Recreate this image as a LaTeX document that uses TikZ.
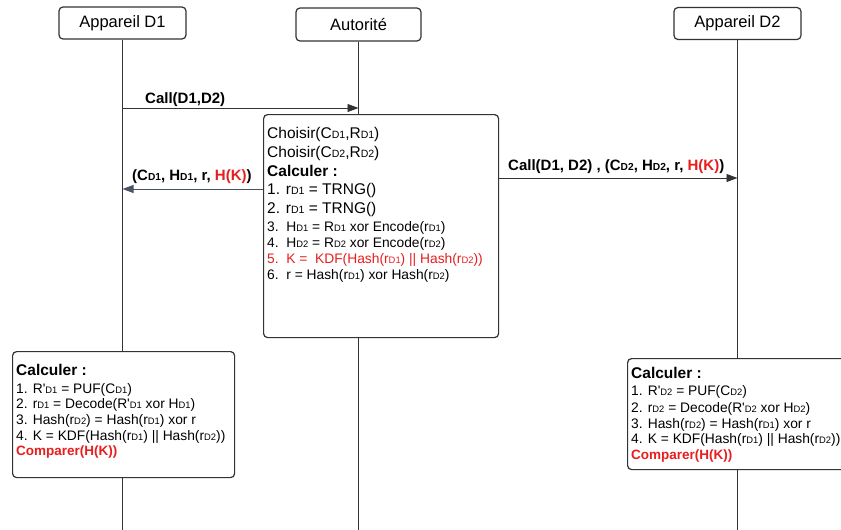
\documentclass[tikz,border=0pt]{standalone}
\usepackage{fontspec}
\setmainfont{Liberation Sans}
\usepackage{graphicx}
\usetikzlibrary{arrows.meta}
\definecolor{ink}{HTML}{333333}
\definecolor{slate}{HTML}{4A5563}
\definecolor{alert}{HTML}{E81E1E}
% small index letters on the baseline (C_D1, r_D2, ...)
\newcommand\lo[1]{\scalebox{0.68}{#1}}
\newcommand\q{\textquotesingle}
\tikzset{
  actor/.style={draw=ink, line width=1.2pt, rounded corners=4pt, fill=white,
    minimum height=32pt, inner sep=0pt, font=\fontsize{16.5}{20}\selectfont},
  panel/.style={draw=ink, line width=1.2pt, rounded corners=4pt, fill=white,
    anchor=north west, inner sep=0pt},
  life/.style={draw=ink, line width=0.9pt},
  msg/.style={draw=ink, line width=0.9pt, -{Triangle[length=11pt,width=8pt]}},
  ln/.style={anchor=base west, inner sep=0pt},
  big/.style={ln, font=\fontsize{15.5}{18}\selectfont},
  sm/.style={ln, font=\fontsize{13.8}{16}\selectfont},
  hd/.style={ln, font=\bfseries\fontsize{15.5}{18}\selectfont},
  cmp/.style={ln, text=alert, font=\bfseries\fontsize{13.5}{16}\selectfont},
  lbl/.style={ln, font=\bfseries\fontsize{15}{18}\selectfont},
}
\begin{document}
\begin{tikzpicture}[x=1pt,y=-1pt]
\clip (0,0) rectangle (841,530);

% participants
\node[actor, minimum width=127pt] (d1) at (122.5,23) {Appareil D1};
\node[actor, minimum width=125pt, minimum height=33pt] (au) at (358.5,24.5) {Autorité};
\node[actor, minimum width=127pt] (d2) at (737.5,23.5) {Appareil D2};

% lifelines
\coordinate (d1b) at (d1 |- 0,530);
\coordinate (aub) at (au |- 0,530);
\coordinate (d2b) at (d2 |- 0,530);
\draw[life] (d1.south) -- (d1b);
\draw[life] (au.south) -- (aub);
\draw[life] (d2.south) -- (d2b);

% activation boxes
\node[panel, minimum width=235pt, minimum height=223pt] (auc) at (263,114) {};
\node[panel, minimum width=222pt, minimum height=126pt] (p1) at (12,351) {};
\node[panel, minimum width=230pt, minimum height=111pt] (p2) at (627,358) {};

% messages
\coordinate (m1s) at (d1 |- 0,108);
\coordinate (m1e) at (au |- 0,108);
\draw[msg] (m1s) -- (m1e);
\node[lbl] (l1) at (145,103) {Call(D1,D2)};

\coordinate (m2s) at (auc.west |- 0,189);
\coordinate (m2e) at (d1 |- 0,189);
\draw[msg, draw=slate] (m2s) -- (m2e);
\node[lbl] (l2) at (132,180) {(C\lo{D1}, H\lo{D1}, r, \textcolor{alert}{H(K)})};

\coordinate (m3s) at (auc.east |- 0,178);
\coordinate (m3e) at (d2 |- 0,178);
\draw[msg] (m3s) -- (m3e);
\node[lbl] (l3) at (508,170) {Call(D1, D2) , (C\lo{D2}, H\lo{D2}, r, \textcolor{alert}{H(K)})};

% authority computations
\node[big] (a1) at (267,138) {Choisir(C\lo{D1},R\lo{D1})};
\node[big] (a2) at (267,157) {Choisir(C\lo{D2},R\lo{D2})};
\node[hd]  (a3) at (267,176) {Calculer :};
\node[big] (a4) at (267,194) {1. r\lo{D1} = TRNG()};
\node[big] (a5) at (267,213) {2. r\lo{D1} = TRNG()};
\node[sm]  (a6) at (267,231) {3.\ \ H\lo{D1} = R\lo{D1} xor Encode(r\lo{D1})};
\node[sm]  (a7) at (267,247) {4.\ \ H\lo{D2} = R\lo{D2} xor Encode(r\lo{D2})};
\node[sm, text=alert] (a8) at (267,263) {5.\ \ K =\ \ KDF(Hash(r\lo{D1}) || Hash(r\lo{D2}))};
\node[sm]  (a9) at (267,279) {6.\ \ r = Hash(r\lo{D1}) xor Hash(r\lo{D2})};

% device D1 computations
\node[hd]  (b1) at (16,375) {Calculer :};
\node[sm]  (b2) at (16,393) {1. R\q\lo{D1} = PUF(C\lo{D1})};
\node[sm]  (b3) at (16,408) {2. r\lo{D1} = Decode(R\q\lo{D1} xor H\lo{D1})};
\node[sm]  (b4) at (16,424) {3. Hash(r\lo{D2}) = Hash(r\lo{D1}) xor r};
\node[sm]  (b5) at (16,440) {4. K = KDF(Hash(r\lo{D1}) || Hash(r\lo{D2}))};
\node[cmp] (b6) at (16,455) {Comparer(H(K))};

% device D2 computations
\node[hd]  (c1) at (631,378) {Calculer :};
\node[sm]  (c2) at (631,395) {1. R\q\lo{D2} = PUF(C\lo{D2})};
\node[sm]  (c3) at (631,412) {2. r\lo{D2} = Decode(R\q\lo{D2} xor H\lo{D2})};
\node[sm]  (c4) at (631,428) {3. Hash(r\lo{D2}) = Hash(r\lo{D1}) xor r};
\node[sm]  (c5) at (631,443) {4. K = KDF(Hash(r\lo{D1}) || Hash(r\lo{D2}))};
\node[cmp] (c6) at (631,459) {Comparer(H(K))};
\end{tikzpicture}
\end{document}
